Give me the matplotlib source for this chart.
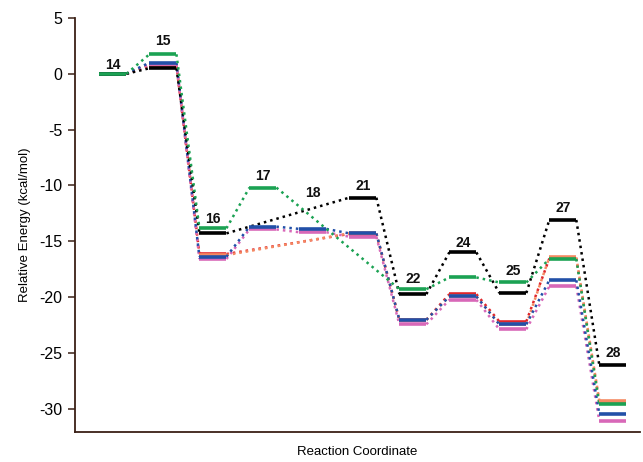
import matplotlib
matplotlib.use("Agg")
import matplotlib.pyplot as plt

plt.rcParams['font.family'] = ['Liberation Sans', 'DejaVu Sans']
plt.rcParams['axes.unicode_minus'] = False

# Stationary points along the reaction coordinate
labels = ['14', '15', '16', '17', '18', '21', '22', '24', '25', '27', '28']
label_y = [0.75, 2.9, -13.0, -9.15, -10.7, -10.05, -18.4, -15.15, -17.65, -12.0, -25.0]

# Relative energies (kcal/mol) for each computational level; None = not on path
black = [0.0, 0.5, -14.3, None, None, -11.1, -19.75, -16.0, -19.65, -13.1, -26.1]
green = [0.0, 1.75, -13.85, -10.2, None, None, -19.3, -18.25, -18.7, -16.6, -29.6]
orange = [0.0, 0.85, -16.25, None, None, -14.3, -22.05, -19.95, -22.45, -16.45, -29.3]
red = [0.0, 0.75, -16.15, None, None, -14.35, -22.05, -19.75, -22.2, -16.55, -29.45]
blue = [0.0, 1.0, -16.4, -13.7, -13.9, -14.3, -22.05, -19.95, -22.45, -18.5, -30.45]
pink = [0.0, 0.85, -16.6, -13.95, -14.2, -14.6, -22.45, -20.25, -22.9, -19.05, -31.1]

# drawn back to front
series = [
    (red, '#e0262b'),
    (orange, '#f58a62'),
    (pink, '#d868b8'),
    (blue, '#2250a8'),
    (black, '#000000'),
    (green, '#1ba253'),
]

half = 0.27  # half width of an energy level bar

fig = plt.figure(figsize=(6.43, 4.62), dpi=100)
ax = fig.add_axes([0.1166, 0.065, 0.8784, 0.896])

for values, color in series:
    pts = [(i, v) for i, v in enumerate(values) if v is not None]
    for i, v in pts:
        ax.plot([i - half, i + half], [v, v], color=color, lw=2.6,
                solid_capstyle='butt', zorder=3)
    for (i0, v0), (i1, v1) in zip(pts[:-1], pts[1:]):
        ax.plot([i0 + half, i1 - half], [v0, v1], color=color, lw=1.8,
                linestyle=(0, (1, 1.6)), zorder=2)

for i, (lab, y) in enumerate(zip(labels, label_y)):
    ax.text(i, y, lab, ha='center', va='center', fontsize=10,
            fontweight='bold', color='#111111', zorder=4)

ax.set_xlim(-0.76, 10.54)
ax.set_ylim(-32.1, 5)
ax.set_yticks([5, 0, -5, -10, -15, -20, -25, -30])
ax.set_xticks([])

spine_color = '#3a2016'
for side in ['top', 'right']:
    ax.spines[side].set_visible(False)
for side in ['left', 'bottom']:
    ax.spines[side].set_color(spine_color)
    ax.spines[side].set_linewidth(1.3)
ax.tick_params(axis='y', direction='out', length=5, width=1.1,
               color=spine_color, labelsize=11.5, pad=4)

ax.set_ylabel('Relative Energy (kcal/mol)', fontsize=9.5, labelpad=6)
ax.set_xlabel('Reaction Coordinate', fontsize=9.5, labelpad=10)

fig.savefig('out.png', dpi=100)
